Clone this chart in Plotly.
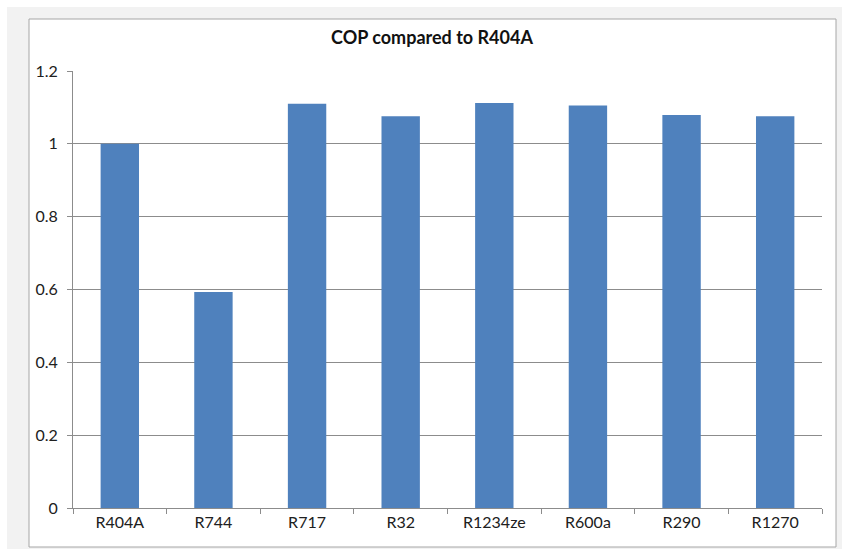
import plotly.graph_objects as go

# Refrigerants and their COP relative to R404A
refrigerants = ["R404A", "R744", "R717", "R32", "R1234ze", "R600a", "R290", "R1270"]
cop_ratio = [1.0, 0.593, 1.110, 1.076, 1.112, 1.105, 1.079, 1.076]
y_ticks = [0, 0.2, 0.4, 0.6, 0.8, 1.0, 1.2]
y_tick_text = ["0", "0.2", "0.4", "0.6", "0.8", "1", "1.2"]

W, H = 842, 549
L, R, T, B = 73, 20, 71, 41
pw, ph = W - L - R, H - T - B


def px_x(x):
    return (x - L) / pw


def px_y(y):
    return (H - B - y) / ph


font_family = "Lato, 'Open Sans', sans-serif"
text_color = "#202020"
grid_color = "#8c8c8c"

fig = go.Figure(
    go.Bar(
        x=refrigerants,
        y=cop_ratio,
        marker=dict(color="#4f81bd", line=dict(width=0)),
        width=0.41,
        hoverinfo="x+y",
    )
)

fig.update_layout(
    width=W,
    height=H,
    margin=dict(l=L, r=R, t=T, b=B, pad=0),
    paper_bgcolor="white",
    plot_bgcolor="white",
    showlegend=False,
    font=dict(family=font_family, size=16, color=text_color),
    title=dict(
        text="<b>COP compared to R404A</b>",
        x=px_x(432),
        xref="paper",
        xanchor="center",
        y=1 - 38 / H,
        yref="container",
        yanchor="middle",
        font=dict(family=font_family, size=18, color="#111111"),
    ),
    shapes=[
        # light grey frame behind the chart
        dict(type="rect", xref="paper", yref="paper",
             x0=px_x(7), x1=px_x(846), y0=px_y(553), y1=px_y(7),
             fillcolor="#f2f2f2", line=dict(width=0), layer="below"),
        # white chart box with grey border
        dict(type="rect", xref="paper", yref="paper",
             x0=px_x(29), x1=px_x(836), y0=px_y(547), y1=px_y(19),
             fillcolor="white", line=dict(color="#a6a6a6", width=1), layer="below"),
    ],
)

fig.update_xaxes(
    type="category",
    showgrid=False,
    showline=True,
    linecolor=grid_color,
    linewidth=1,
    ticks="outside",
    tickson="boundaries",
    ticklen=5,
    tickcolor=grid_color,
    tickfont=dict(size=16, color=text_color),
    fixedrange=True,
)

fig.update_yaxes(
    range=[0, 1.2],
    tickvals=y_ticks,
    ticktext=y_tick_text,
    showgrid=True,
    gridcolor=grid_color,
    gridwidth=1,
    zeroline=False,
    showline=True,
    linecolor=grid_color,
    linewidth=1,
    ticks="outside",
    ticklen=5,
    tickcolor=grid_color,
    tickfont=dict(size=16, color=text_color),
    ticklabelstandoff=6,
    fixedrange=True,
)

fig.write_html("out.html", config={"displayModeBar": False})
